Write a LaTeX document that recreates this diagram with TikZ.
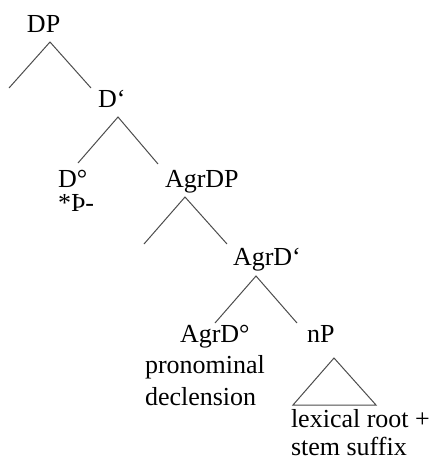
\documentclass[tikz,border=0pt]{standalone}
\usepackage{fontspec}
\setmainfont{Liberation Serif}
\begin{document}
\begin{tikzpicture}[x=1pt,y=-1pt,
  lbl/.style={anchor=base west,inner sep=0pt,outer sep=0pt,font=\fontsize{26}{30}\selectfont},
  branch/.style={draw=black!70,line width=1pt}]
\useasboundingbox (0,0) rectangle (434,461);
% labels
\node[lbl] (dp) at (27,32) {DP};
\node[lbl] (dbar) at (98,107) {D‘};
\node[lbl] (dhead) at (58,187) {D°};
\node[lbl] (thorn) at (58,211) {*Þ-};
\node[lbl] (agrdp) at (165,187) {AgrDP};
\node[lbl] (agrdbar) at (233,265) {AgrD‘};
\node[lbl] (agrdhead) at (180,342) {AgrD°};
\node[lbl] (pron) at (145,373) {pronominal};
\node[lbl] (decl) at (145,405) {declension};
\node[lbl] (np) at (307,342) {nP};
\node[lbl] (lex) at (291,427) {lexical root +};
\node[lbl] (stem) at (291,455) {stem suffix};
% branch points
\coordinate (a1) at (50,42);  \coordinate (l1) at (9,88);   \coordinate (r1) at (91,88);
\coordinate (a2) at (118,117); \coordinate (l2) at (78,163); \coordinate (r2) at (158,164);
\coordinate (a3) at (185,197); \coordinate (l3) at (144,244); \coordinate (r3) at (227,244);
\coordinate (a4) at (256,276); \coordinate (l4) at (215,323); \coordinate (r4) at (297,323);
\coordinate (t1) at (334,358); \coordinate (t2) at (293,405); \coordinate (t3) at (376,405);
\draw[branch] (l1) -- (a1) -- (r1);
\draw[branch] (l2) -- (a2) -- (r2);
\draw[branch] (l3) -- (a3) -- (r3);
\draw[branch] (l4) -- (a4) -- (r4);
\draw[branch] (t1) -- (t2) -- (t3) -- cycle;
\end{tikzpicture}
\end{document}
